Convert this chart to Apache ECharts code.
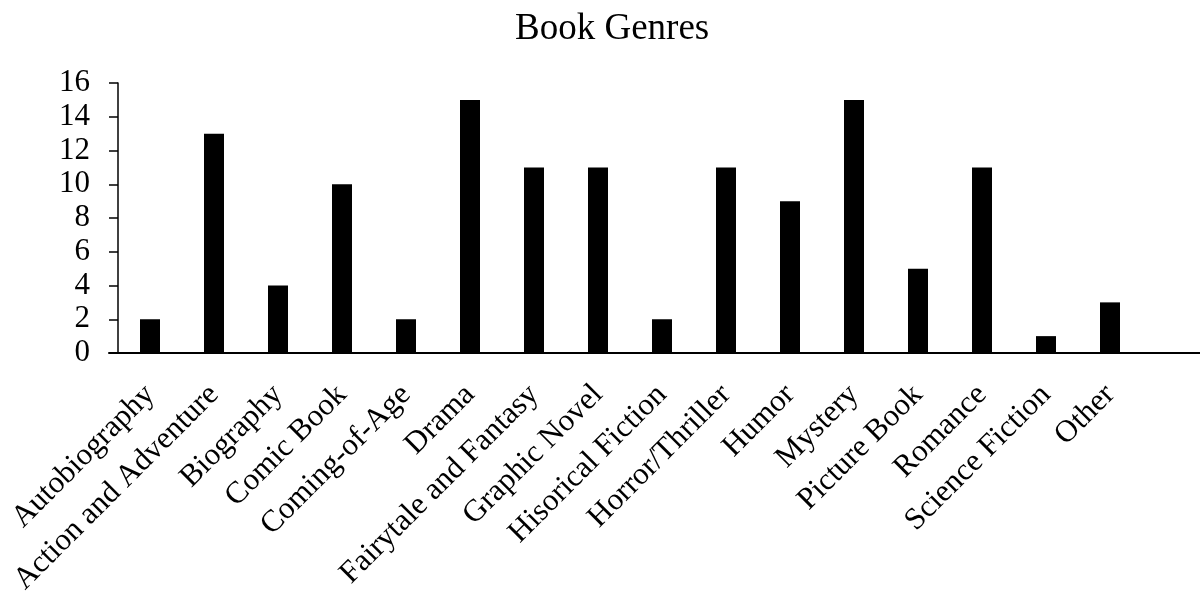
<!DOCTYPE html>
<html>
<head>
<meta charset="utf-8">
<script src="https://cdn.jsdelivr.net/npm/echarts@6/dist/echarts.min.js"></script>
<style>
  html, body { margin: 0; padding: 0; background: #fff; }
  #chart { width: 1200px; height: 593px; }
</style>
</head>
<body>
<div id="chart"></div>
<script>
const genres = [
  'Autobiography', 'Action and Adventure', 'Biography', 'Comic Book',
  'Coming-of-Age', 'Drama', 'Fairytale and Fantasy', 'Graphic Novel',
  'Hisorical Fiction', 'Horror/Thriller', 'Humor', 'Mystery',
  'Picture Book', 'Romance', 'Science Fiction', 'Other'
];
const counts = [2, 13, 4, 10, 2, 15, 11, 11, 2, 11, 9, 15, 5, 11, 1, 3];
const yTicks = { min: 0, max: 16, step: 2 };

const serif = '"Liberation Serif", "Times New Roman", serif';

const chart = echarts.init(document.getElementById('chart'), null, { renderer: 'canvas' });

chart.setOption({
  animation: false,
  backgroundColor: '#ffffff',
  title: {
    text: 'Book Genres',
    left: 510,
    top: 6,
    textStyle: { fontFamily: serif, fontSize: 37, fontWeight: 'normal', color: '#000' }
  },
  grid: [
    // plot area holding the bars
    { left: 118, top: 83, width: 1024, height: 270, containLabel: false, outerBoundsMode: 'none' },
    // wider band that only carries the long baseline
    { left: 109, top: 83, right: 0, height: 270, containLabel: false, outerBoundsMode: 'none' }
  ],
  xAxis: [
    {
      type: 'category',
      gridIndex: 0,
      data: genres,
      axisLine: { show: false },
      axisTick: { show: false },
      axisLabel: {
        rotate: 45,
        interval: 0,
        margin: 37,
        fontFamily: serif,
        fontSize: 31,
        color: '#000'
      }
    },
    {
      type: 'category',
      gridIndex: 1,
      data: [''],
      axisLine: { show: true, lineStyle: { color: '#000', width: 2 } },
      axisTick: { show: false },
      axisLabel: { show: false }
    }
  ],
  yAxis: [
    {
      type: 'value',
      gridIndex: 0,
      min: yTicks.min,
      max: yTicks.max,
      interval: yTicks.step,
      splitLine: { show: false },
      axisLine: { show: true, lineStyle: { color: '#000', width: 1.5 } },
      axisTick: { show: true, length: 9, lineStyle: { color: '#000', width: 1.5 } },
      axisLabel: {
        margin: 28,
        fontFamily: serif,
        fontSize: 31,
        color: '#000'
      }
    },
    {
      type: 'value',
      gridIndex: 1,
      min: 0,
      max: 1,
      show: false
    }
  ],
  series: [
    {
      type: 'bar',
      xAxisIndex: 0,
      yAxisIndex: 0,
      data: counts,
      barWidth: 20,
      itemStyle: { color: '#000' }
    }
  ]
});
</script>
</body>
</html>
